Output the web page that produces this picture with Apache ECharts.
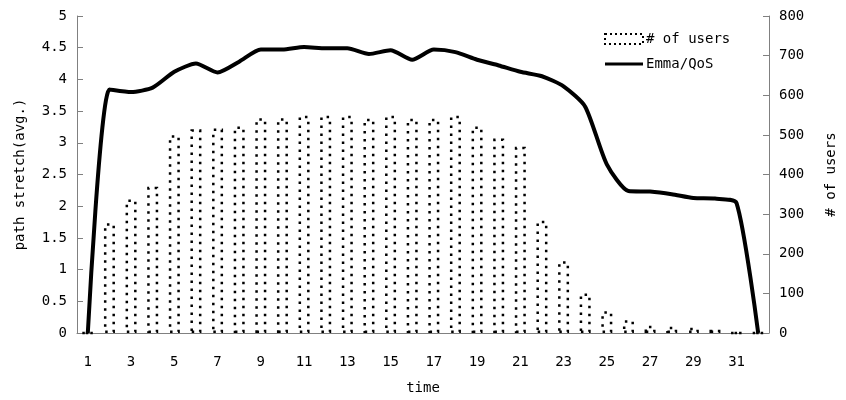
<!DOCTYPE html>
<html>
<head>
<meta charset="utf-8">
<script src="https://cdn.jsdelivr.net/npm/echarts@6/dist/echarts.min.js"></script>
<style>html,body{margin:0;padding:0;background:#fff}#c{width:846px;height:400px}</style>
</head>
<body>
<div id="c"></div>
<script>
var categories = [];
for (var i = 1; i <= 32; i++) categories.push(String(i));
var users = [0, 277, 337, 369, 499, 514, 516, 521, 542, 542, 548, 548, 548, 541, 548, 541,
             541, 548, 521, 491, 470, 283, 181, 100, 55, 32, 18, 16, 13, 8, 0, 0];
var stretch = [0, 3.84, 3.80, 3.87, 4.12, 4.25, 4.11, 4.28, 4.47, 4.47, 4.51, 4.49, 4.49, 4.40, 4.46, 4.31,
               4.47, 4.43, 4.31, 4.22, 4.12, 4.05, 3.89, 3.57, 2.66, 2.24, 2.23, 2.19, 2.13, 2.12, 2.05, 0];
var leftTicks = { min: 0, max: 5, interval: 0.5 };
var rightTicks = { min: 0, max: 800, interval: 100 };

var FONT = 'DejaVu Sans Mono';
var axisGray = '#808080';
var chart = echarts.init(document.getElementById('c'), null, { renderer: 'canvas' });
chart.setOption({
  animation: false,
  backgroundColor: '#fff',
  textStyle: { fontFamily: FONT, color: '#000' },
  grid: { left: 77, right: 70, top: 16, bottom: 66, containLabel: false },
  legend: {
    orient: 'vertical', left: 599, top: 27, itemWidth: 38, itemHeight: 10, itemGap: 11,
    textStyle: { fontFamily: FONT, fontSize: 14, color: '#000', padding: [0, 0, 0, -2] },
    data: [
      { name: '# of users', icon: 'rect', itemStyle: { color: 'rgba(0,0,0,0)', borderColor: '#000', borderWidth: 2, borderType: [2, 3] } },
      { name: 'Emma/QoS', icon: 'path://M0,0M0,3.5H38V6.5H0ZM38,10', itemStyle: { color: '#000', borderWidth: 0 } }
    ]
  },
  xAxis: {
    type: 'category', data: categories, boundaryGap: true,
    name: 'time', nameLocation: 'middle', nameGap: 48,
    nameTextStyle: { fontFamily: FONT, fontSize: 14, color: '#000' },
    axisLine: { lineStyle: { color: axisGray, width: 1 } },
    axisTick: { inside: true, length: 6, interval: 0, lineStyle: { color: axisGray } },
    axisLabel: { interval: 1, margin: 22, fontFamily: FONT, fontSize: 14, color: '#000' },
    splitLine: { show: false }
  },
  yAxis: [
    {
      type: 'value', min: leftTicks.min, max: leftTicks.max, interval: leftTicks.interval,
      name: 'path stretch(avg.)', nameLocation: 'middle', nameGap: 50, nameRotate: 90,
      nameTextStyle: { fontFamily: FONT, fontSize: 14, color: '#000' },
      axisLine: { show: true, lineStyle: { color: axisGray } },
      axisTick: { show: true, inside: true, length: 6, lineStyle: { color: axisGray } },
      axisLabel: { margin: 10, fontFamily: FONT, fontSize: 14, color: '#000' },
      splitLine: { show: false }
    },
    {
      type: 'value', position: 'right', min: rightTicks.min, max: rightTicks.max, interval: rightTicks.interval,
      name: '# of users', nameLocation: 'middle', nameGap: 55, nameRotate: 90,
      nameTextStyle: { fontFamily: FONT, fontSize: 14, color: '#000' },
      axisLine: { show: true, lineStyle: { color: axisGray } },
      axisTick: { show: true, inside: true, length: 6, lineStyle: { color: axisGray } },
      axisLabel: { margin: 10, fontFamily: FONT, fontSize: 14, color: '#000' },
      splitLine: { show: false }
    }
  ],
  series: [
    {
      name: '# of users', type: 'bar', yAxisIndex: 1, data: users, barWidth: 11, z: 1,
      itemStyle: { color: 'rgba(0,0,0,0)', borderColor: '#000', borderWidth: 2.5, borderType: [2.5, 5.5] }
    },
    {
      name: 'Emma/QoS', type: 'line', yAxisIndex: 0, data: stretch, smooth: 0.22, symbol: 'none', z: 3,
      lineStyle: { color: '#000', width: 4 }, itemStyle: { color: '#000' }
    }
  ]
});
</script>
</body>
</html>
